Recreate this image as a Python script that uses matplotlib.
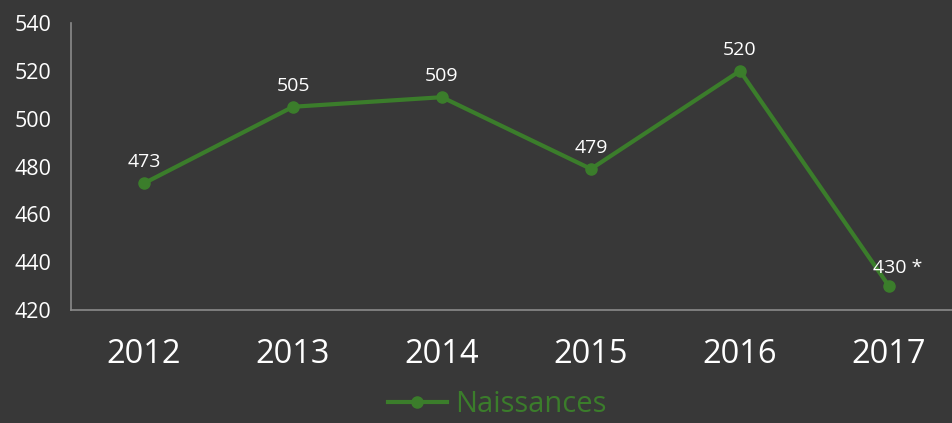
import matplotlib
matplotlib.use("Agg")
import matplotlib.pyplot as plt

years = ["2012", "2013", "2014", "2015", "2016", "2017"]
births = [473, 505, 509, 479, 520, 430]
point_labels = ["473", "505", "509", "479", "520", "430 *"]
series_name = "Naissances"
yticks = [420, 440, 460, 480, 500, 520, 540]

BG = "#383838"
GREEN = "#3b7d2b"
plt.rcParams['font.family'] = ['Open Sans', 'DejaVu Sans']

fig = plt.figure(figsize=(9.53, 4.23), dpi=100, facecolor=BG)
ax = fig.add_axes([0.0745, 0.267, 0.9365, 0.6785])
ax.set_facecolor(BG)

x = list(range(len(years)))
ax.plot(x, births, color=GREEN, lw=3, marker="o", markersize=8, label=series_name, zorder=3)

for i, (v, lab) in enumerate(zip(births, point_labels)):
    if i == len(births) - 1:
        ax.annotate(lab, (i, v), xytext=(6, 13), textcoords="offset points",
                    ha="center", va="center", color="white", fontsize=14)
    else:
        ax.annotate(lab, (i, v), xytext=(0, 15), textcoords="offset points",
                    ha="center", va="center", color="white", fontsize=14)

ax.set_xlim(-0.49, 5.5)
ax.set_ylim(420, 540)
ax.set_yticks(yticks)
ax.set_yticklabels([str(t) for t in yticks], color="white", fontsize=15.5)
ax.set_xticks(x)
ax.set_xticklabels(years, color="white", fontsize=23.5)
ax.tick_params(axis="y", length=0, pad=14)
ax.tick_params(axis="x", length=0, pad=20)

for s in ["top", "right"]:
    ax.spines[s].set_visible(False)
for s in ["left", "bottom"]:
    ax.spines[s].set_color("#8a8a8a")
    ax.spines[s].set_linewidth(1.2)

leg = fig.legend(loc="center", bbox_to_anchor=(0.522, 0.043), frameon=False,
                 fontsize=21, handlelength=2.0, handletextpad=0.3,
                 borderpad=0.1)
for t in leg.get_texts():
    t.set_color(GREEN)

fig.savefig("out.png", dpi=100, facecolor=BG)
